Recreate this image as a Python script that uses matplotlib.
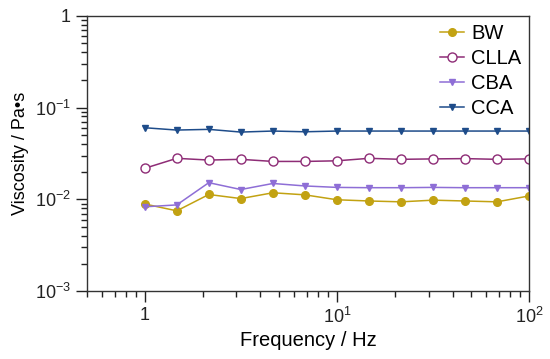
import matplotlib
matplotlib.use('Agg')
import matplotlib.pyplot as plt
import matplotlib.ticker as ticker
import numpy as np

plt.rcParams['font.family'] = ['Liberation Sans', 'DejaVu Sans']
plt.rcParams['mathtext.fontset'] = 'custom'
plt.rcParams['mathtext.rm'] = 'Liberation Sans'
plt.rcParams['mathtext.it'] = 'Liberation Sans'

freq = [1, 1.468, 2.154, 3.162, 4.642, 6.813, 10, 14.68, 21.54, 31.62, 46.42, 68.13, 100]
bw = [0.0089, 0.0075, 0.0113, 0.0102, 0.0118, 0.0112, 0.0099, 0.0096, 0.0094, 0.0098, 0.0096, 0.0094, 0.0109]
clla = [0.0218, 0.0280, 0.0268, 0.0273, 0.0259, 0.0259, 0.0263, 0.0280, 0.0273, 0.0276, 0.0278, 0.0273, 0.0276]
cba = [0.0083, 0.0087, 0.0152, 0.0128, 0.0149, 0.0140, 0.0135, 0.0134, 0.0134, 0.0135, 0.0134, 0.0134, 0.0134]
cca = [0.0603, 0.0569, 0.0579, 0.0541, 0.0555, 0.0545, 0.0555, 0.0555, 0.0555, 0.0555, 0.0555, 0.0555, 0.0555]

fig = plt.figure(figsize=(5.5, 3.59), dpi=100)
ax = fig.add_axes([0.158, 0.189, 0.804, 0.767])

ax.plot(freq, bw, color='#C2A212', marker='o', markersize=5.5, lw=1.1, label='BW')
ax.plot(freq, clla, color='#8E2C76', marker='o', markersize=6.5, markerfacecolor='white',
        markeredgewidth=1.0, lw=1.1, label='CLLA')
ax.plot(freq, cba, color='#8E6ED6', marker='v', markersize=4.5, lw=1.1, label='CBA')
ax.plot(freq, cca, color='#1E4C8A', marker='v', markersize=4.5, lw=1.1, label='CCA')

ax.set_xscale('log')
ax.set_yscale('log')
ax.set_xlim(0.5, 100)
ax.set_ylim(1e-3, 1)


def fmt(v, pos):
    e = int(round(np.log10(v)))
    if e == 0:
        return '1'
    return r'$\mathregular{10^{%d}}$' % e


ax.xaxis.set_major_formatter(ticker.FuncFormatter(fmt))
ax.yaxis.set_major_formatter(ticker.FuncFormatter(fmt))
ax.xaxis.set_minor_formatter(ticker.NullFormatter())
ax.yaxis.set_minor_formatter(ticker.NullFormatter())
ax.tick_params(which='major', direction='out', length=8, width=1, labelsize=13, colors='#222222')
ax.tick_params(which='minor', direction='out', length=4, width=1, colors='#222222')
ax.tick_params(top=False, right=False)
for s in ax.spines.values():
    s.set_color('#333333')
    s.set_linewidth(1)

ax.set_xlabel('Frequency / Hz', fontsize=14.5, labelpad=3)
ax.set_ylabel('Viscosity / Pa\u2022s', fontsize=13)

ax.legend(loc='upper right', frameon=False, fontsize=14.5, handlelength=1.2,
          handletextpad=0.35, labelspacing=0.3, borderaxespad=0.1, borderpad=0.3)

fig.savefig('out.png', dpi=100)
